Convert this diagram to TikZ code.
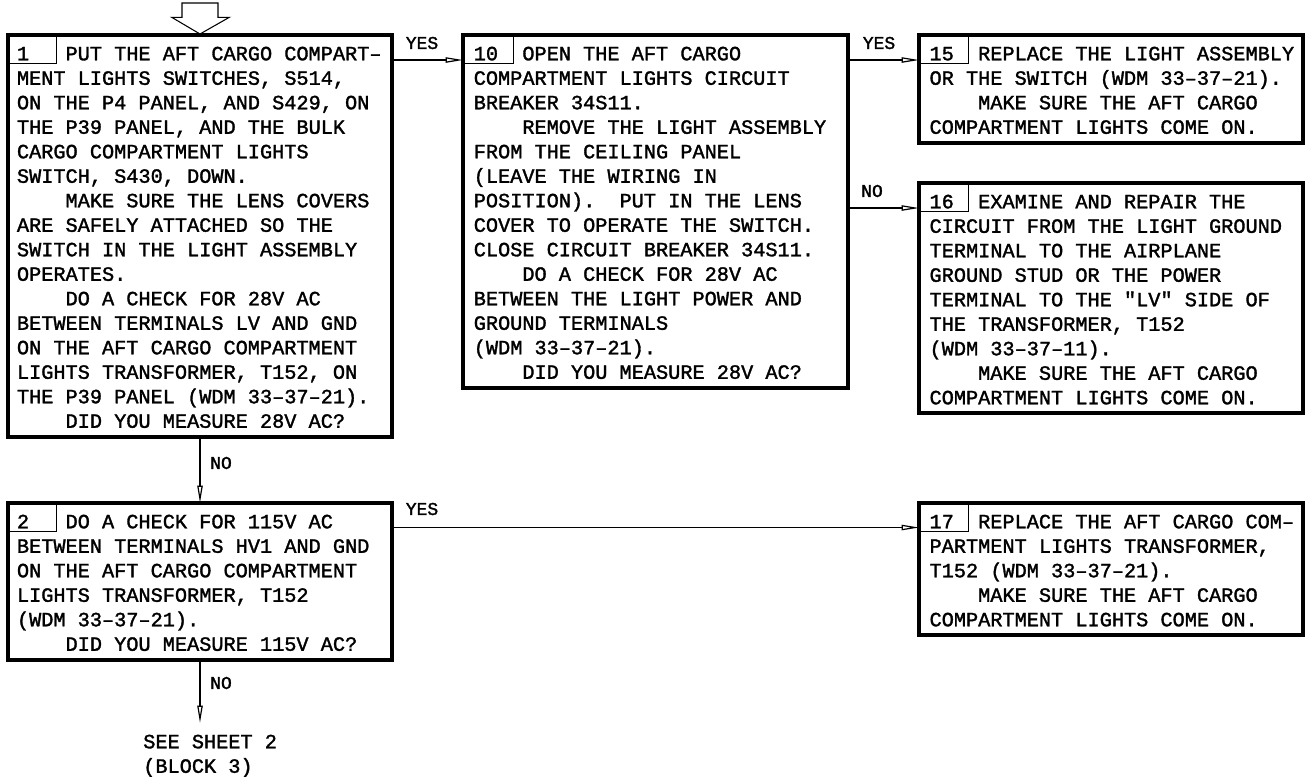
\documentclass[tikz,border=0pt]{standalone}
\usepackage{fontspec}
\usetikzlibrary{arrows.meta}
\newfontfamily\tf[FakeBold=1.6]{Liberation Mono}
\newcommand\bodyfont{\tf\fontsize{15.19pt}{18.375pt}\selectfont\frenchspacing}
\newcommand\labfont{\tf\fontsize{13.5pt}{15pt}\selectfont}
\newcommand\ii{\phantom{MMMM}}
\tikzset{
  blk/.style={draw, line width=2.3pt, inner sep=0pt, outer sep=0pt},
  cell/.style={draw, line width=0.75pt, inner sep=0pt, outer sep=0pt, anchor=north west, minimum height=21.4pt},
  txt/.style={anchor=north west, inner sep=0pt, align=left, font=\bodyfont},
  lab/.style={inner sep=0pt, font=\labfont},
  arr/.style={line width=0.8pt, -{Triangle[open, length=13pt, width=4pt, line width=0.9pt]}},
}
\begin{document}
\begin{tikzpicture}[x=0.75pt, y=-0.75pt]
\useasboundingbox (0,0) rectangle (1310,776);

% entry arrow
\draw[line width=0.8pt, line join=miter] (182,3) -- (218,3) -- (218,17.3) -- (229.3,17.3) -- (200,34) -- (171.7,17.3) -- (182,17.3) -- cycle;

% boxes
\node[blk, minimum width=288pt, minimum height=301.5pt] (b1) at (200,236) {};
\node[blk, minimum width=288.75pt, minimum height=264.75pt] (b10) at (655.5,211.5) {};
\node[blk, minimum width=288pt, minimum height=81pt] (b15) at (1111,89) {};
\node[blk, minimum width=288pt, minimum height=172.5pt] (b16) at (1111,298) {};
\node[blk, minimum width=288pt, minimum height=117.75pt] (b2) at (200,581.5) {};
\node[blk, minimum width=288pt, minimum height=99pt] (b17) at (1111,569) {};

% number cells
\node[cell, minimum width=36pt] (n1) at (b1.north west) {};
\node[cell, minimum width=37.5pt] (n10) at (b10.north west) {};
\node[cell, minimum width=36.75pt] (n15) at (b15.north west) {};
\node[cell, minimum width=36.75pt] (n16) at (b16.north west) {};
\node[cell, minimum width=36pt] (n2) at (b2.north west) {};
\node[cell, minimum width=36.75pt] (n17) at (b17.north west) {};

% texts
\node[txt] (t1) at (16.7,42.85) {\strut 1\phantom{MMM}PUT THE AFT CARGO COMPART–\\
MENT LIGHTS SWITCHES, S514,\\
ON THE P4 PANEL, AND S429, ON\\
THE P39 PANEL, AND THE BULK\\
CARGO COMPARTMENT LIGHTS\\
SWITCH, S430, DOWN.\\
\ii MAKE SURE THE LENS COVERS\\
ARE SAFELY ATTACHED SO THE\\
SWITCH IN THE LIGHT ASSEMBLY\\
OPERATES.\\
\ii DO A CHECK FOR 28V AC\\
BETWEEN TERMINALS LV AND GND\\
ON THE AFT CARGO COMPARTMENT\\
LIGHTS TRANSFORMER, T152, ON\\
THE P39 PANEL (WDM 33–37–21).\\
\ii DID YOU MEASURE 28V AC?};

\node[txt] (t10) at (473.5,42.85) {\strut 10\phantom{MM}OPEN THE AFT CARGO\\
COMPARTMENT LIGHTS CIRCUIT\\
BREAKER 34S11.\\
\ii REMOVE THE LIGHT ASSEMBLY\\
FROM THE CEILING PANEL\\
(LEAVE THE WIRING IN\\
POSITION).\ \ PUT IN THE LENS\\
COVER TO OPERATE THE SWITCH.\\
CLOSE CIRCUIT BREAKER 34S11.\\
\ii DO A CHECK FOR 28V AC\\
BETWEEN THE LIGHT POWER AND\\
GROUND TERMINALS\\
(WDM 33–37–21).\\
\ii DID YOU MEASURE 28V AC?};

\node[txt] (t15) at (929.3,42.85) {\strut 15\phantom{MM}REPLACE THE LIGHT ASSEMBLY\\
OR THE SWITCH (WDM 33–37–21).\\
\ii MAKE SURE THE AFT CARGO\\
COMPARTMENT LIGHTS COME ON.};

\node[txt] (t16) at (929.3,190.85) {\strut 16\phantom{MM}EXAMINE AND REPAIR THE\\
CIRCUIT FROM THE LIGHT GROUND\\
TERMINAL TO THE AIRPLANE\\
GROUND STUD OR THE POWER\\
TERMINAL TO THE "LV" SIDE OF\\
THE TRANSFORMER, T152\\
(WDM 33–37–11).\\
\ii MAKE SURE THE AFT CARGO\\
COMPARTMENT LIGHTS COME ON.};

\node[txt] (t2) at (16.7,510.85) {\strut 2\phantom{MMM}DO A CHECK FOR 115V AC\\
BETWEEN TERMINALS HV1 AND GND\\
ON THE AFT CARGO COMPARTMENT\\
LIGHTS TRANSFORMER, T152\\
(WDM 33–37–21).\\
\ii DID YOU MEASURE 115V AC?};

\node[txt] (t17) at (929.3,510.85) {\strut 17\phantom{MM}REPLACE THE AFT CARGO COM–\\
PARTMENT LIGHTS TRANSFORMER,\\
T152 (WDM 33–37–21).\\
\ii MAKE SURE THE AFT CARGO\\
COMPARTMENT LIGHTS COME ON.};

\node[txt] (sheet) at (143,730.85) {\strut SEE SHEET 2\\(BLOCK 3)};

% connectors
\coordinate (ya) at (0,60);
\coordinate (yb) at (0,208);
\coordinate (yc) at (0,527.5);
\coordinate (tip) at (200,723);
\draw[arr] (b1.east |- ya) -- (b10.west |- ya);
\draw[arr] (b10.east |- ya) -- (b15.west |- ya);
\draw[arr] (b10.east |- yb) -- (b16.west |- yb);
\draw[arr] (b1.south) -- (b2.north);
\draw[arr] (b2.east |- yc) -- (b17.west |- yc);
\draw[arr] (b2.south) -- (tip);

% labels
\node[lab] (l1) at (422,43) {YES};
\node[lab] (l2) at (879,43) {YES};
\node[lab] (l3) at (872,191) {NO};
\node[lab] (l4) at (221,463) {NO};
\node[lab] (l5) at (422,509) {YES};
\node[lab] (l6) at (221,683) {NO};
\end{tikzpicture}
\end{document}
